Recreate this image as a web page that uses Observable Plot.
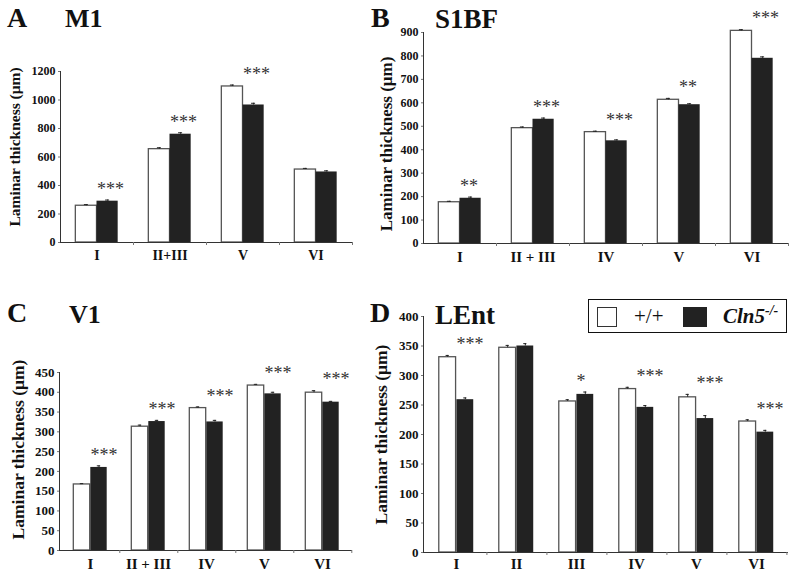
<!DOCTYPE html>
<html>
<head>
<meta charset="utf-8">
<script src="https://cdn.jsdelivr.net/npm/d3@7"></script>
<script src="https://cdn.jsdelivr.net/npm/@observablehq/plot@0.6"></script>
<style>
  html, body { margin: 0; padding: 0; background: #fff; }
  #root { position: relative; width: 800px; height: 577px; overflow: hidden; font-family: "Liberation Serif", "Times New Roman", serif; }
  .panel { position: absolute; }
  #titles { position: absolute; left: 0; top: 0; pointer-events: none; }
  #legend { position: absolute; left: 588px; top: 299px; width: 197px; height: 32px; border: 1.5px solid #111; background: #fff; }
  #legend .sw { position: absolute; top: 7px; width: 20px; height: 20px; box-sizing: border-box; }
  #legend .lab { position: absolute; top: 3px; font-size: 21px; line-height: 26px; color: #111; }
</style>
</head>
<body>
<div id="root"></div>
<script>
// ---------- data ----------
// Panel A: M1
const layersA = ["I", "II+III", "V", "VI"];
const wtA = [258, 655, 1095, 512];
const koA = [290, 760, 965, 495];
const wtErrA = [8, 10, 10, 8];
const koErrA = [8, 10, 12, 8];
const sigA = ["***", "***", "***", ""];

// Panel B: S1BF
const layersB = ["I", "II + III", "IV", "V", "VI"];
const wtB = [176, 492, 475, 613, 907];
const koB = [193, 530, 438, 592, 790];
const wtErrB = [4, 5, 4, 6, 5];
const koErrB = [5, 5, 4, 4, 6];
const sigB = ["**", "***", "***", "**", "***"];

// Panel C: V1
const layersC = ["I", "II + III", "IV", "V", "VI"];
const wtC = [167, 313, 360, 417, 399];
const koC = [210, 326, 325, 396, 375];
const wtErrC = [2, 4, 3, 3, 5];
const koErrC = [4, 3, 4, 4, 2];
const sigC = ["***", "***", "***", "***", "***"];

// Panel D: LEnt
const layersD = ["I", "II", "III", "IV", "V", "VI"];
const wtD = [331, 347, 256, 277, 263, 222];
const koD = [259, 350, 268, 246, 227, 204];
const wtErrD = [3, 4, 3, 3, 5, 3];
const koErrD = [3, 4, 4, 3, 5, 3];
const sigD = ["***", "", "*", "***", "***", "***"];

const yTicksA = [0, 200, 400, 600, 800, 1000, 1200];
const yTicksB = [0, 100, 200, 300, 400, 500, 600, 700, 800, 900];
const yTicksC = [0, 50, 100, 150, 200, 250, 300, 350, 400, 450];
const yTicksD = [0, 50, 100, 150, 200, 250, 300, 350, 400];

const yLabel = "Laminar thickness (\u03bcm)";
const legendLabels = ["+/+", "Cln5", "-/-"];

// ---------- drawing ----------
const root = document.getElementById("root");

function panel(cfg) {
  const {layers, wt, ko, wtErr, koErr, sig, yTicks, left, top, width, height,
         ml, mr, mt, mb, labelOffset, labelSize, labelShift, tickSize, catSize, catPad} = cfg;
  const yMax = yTicks[yTicks.length - 1];
  const ph = height - mt - mb;
  const bw = (width - ml - mr) / layers.length;
  const w = 0.29 * bw;
  const wtRows = layers.map((l, i) => ({layer: l, value: wt[i], err: wtErr[i]}));
  const koRows = layers.map((l, i) => ({layer: l, value: ko[i], err: koErr[i]}));
  const starRows = layers.map((l, i) => ({layer: l, sig: sig[i],
      top: Math.max(wt[i] + wtErr[i], ko[i] + koErr[i])})).filter(d => d.sig);
  const tickDown = 3 * yMax / ph;

  const plot = Plot.plot({
    width, height,
    marginLeft: ml, marginRight: mr, marginTop: mt, marginBottom: mb,
    style: {fontFamily: "Liberation Serif, Times New Roman, serif", background: "transparent", overflow: "visible", color: "#111"},
    x: {domain: layers, padding: 0, axis: null},
    y: {domain: [0, yMax], axis: null},
    marks: [
      // bars
      Plot.barY(wtRows, {x: "layer", y: "value", fill: "white", stroke: "#555", strokeWidth: 1.3,
        insetLeft: bw / 2 - w, insetRight: bw / 2}),
      Plot.barY(koRows, {x: "layer", y: "value", fill: "#222",
        insetLeft: bw / 2, insetRight: bw / 2 - w}),
      // error bars
      Plot.ruleX(wtRows, {x: "layer", y1: "value", y2: d => d.value + d.err, dx: -w / 2, stroke: "#222", strokeWidth: 1}),
      Plot.ruleX(koRows, {x: "layer", y1: "value", y2: d => d.value + d.err, dx: w / 2, stroke: "#222", strokeWidth: 1}),
      Plot.tickY(wtRows, {x: "layer", y: d => d.value + d.err, stroke: "#222", strokeWidth: 1,
        insetLeft: bw / 2 - w / 2 - 2, insetRight: bw / 2 + w / 2 - 2}),
      Plot.tickY(koRows, {x: "layer", y: d => d.value + d.err, stroke: "#222", strokeWidth: 1,
        insetLeft: bw / 2 + w / 2 - 2, insetRight: bw / 2 - w / 2 - 2}),
      // significance stars
      Plot.text(starRows, {x: "layer", y: "top", text: "sig", textAnchor: "start", dy: -11,
        fontSize: 18, fill: "#333"}),
      // axes
      Plot.ruleY([0], {stroke: "#333", strokeWidth: 1}),
      Plot.frame({anchor: "left", stroke: "#333", strokeWidth: 1}),
      Plot.ruleX(layers, {x: d => d, dx: bw / 2, y1: 0, y2: -tickDown, stroke: "#777", strokeWidth: 1}),
      Plot.axisY({ticks: yTicks, tickSize: 2, tickPadding: 3, tickFormat: d => String(d), label: null,
        fontSize: tickSize, fontWeight: "bold", stroke: "#777"}),
      Plot.axisX({tickSize: 0, tickPadding: catPad, label: null, fontSize: catSize, fontWeight: "bold"}),
      Plot.text([yLabel], {frameAnchor: "left", textAnchor: "middle", text: d => d, rotate: -90,
        dx: -labelOffset, dy: labelShift, fontSize: labelSize, fontWeight: "bold", fill: "#111"})
    ]
  });
  plot.classList.add("panel");
  plot.style.left = left + "px";
  plot.style.top = top + "px";
  root.appendChild(plot);
}

panel({layers: layersA, wt: wtA, ko: koA, wtErr: wtErrA, koErr: koErrA, sig: sigA, yTicks: yTicksA,
  left: 0, top: 0, width: 360, height: 280, ml: 60, mr: 8, mt: 71, mb: 38,
  labelOffset: 45, labelSize: 15.5, labelShift: -10, tickSize: 12, catSize: 14, catPad: 8});
panel({layers: layersB, wt: wtB, ko: koB, wtErr: wtErrB, koErr: koErrB, sig: sigB, yTicks: yTicksB,
  left: 360, top: 0, width: 440, height: 280, ml: 63, mr: 12, mt: 32, mb: 37,
  labelOffset: 37, labelSize: 17, labelShift: 6, tickSize: 12, catSize: 15, catPad: 8});
panel({layers: layersC, wt: wtC, ko: koC, wtErr: wtErrC, koErr: koErrC, sig: sigC, yTicks: yTicksC,
  left: 0, top: 280, width: 360, height: 297, ml: 59, mr: 8, mt: 92, mb: 27,
  labelOffset: 41, labelSize: 17.5, labelShift: -12, tickSize: 13, catSize: 15, catPad: 8});
panel({layers: layersD, wt: wtD, ko: koD, wtErr: wtErrD, koErr: koErrD, sig: sigD, yTicks: yTicksD,
  left: 360, top: 280, width: 440, height: 297, ml: 63, mr: 12, mt: 36, mb: 25,
  labelOffset: 42, labelSize: 17.5, labelShift: 0, tickSize: 13, catSize: 15, catPad: 6});

// panel letters and titles
const titles = [
  {t: "A", x: 7, y: 27, s: 28}, {t: "M1", x: 65, y: 27, s: 26},
  {t: "B", x: 371, y: 27, s: 28}, {t: "S1BF", x: 435, y: 28, s: 27},
  {t: "C", x: 7, y: 322, s: 28}, {t: "V1", x: 69, y: 323, s: 26},
  {t: "D", x: 370, y: 322, s: 28}, {t: "LEnt", x: 435, y: 324, s: 27}
];
const ov = d3.select(root).append("svg").attr("id", "titles").attr("width", 800).attr("height", 577);
ov.selectAll("text").data(titles).join("text")
  .attr("x", d => d.x).attr("y", d => d.y)
  .attr("font-family", "Liberation Serif, Times New Roman, serif")
  .attr("font-weight", "bold").attr("font-size", d => d.s).attr("fill", "#111")
  .text(d => d.t);

// legend
const lg = document.createElement("div");
lg.id = "legend";
lg.innerHTML =
  '<div class="sw" style="left:8px;background:#fff;border:1.5px solid #333"></div>' +
  '<div class="lab" style="left:45px">' + legendLabels[0] + '</div>' +
  '<div class="sw" style="left:94px;width:24px;background:#222"></div>' +
  '<div class="lab" style="left:134px;font-style:italic;font-weight:bold">' + legendLabels[1] +
  '<sup style="font-size:14px;font-weight:bold;vertical-align:8px;line-height:0">' + legendLabels[2] + '</sup></div>';
root.appendChild(lg);
</script>
</body>
</html>
